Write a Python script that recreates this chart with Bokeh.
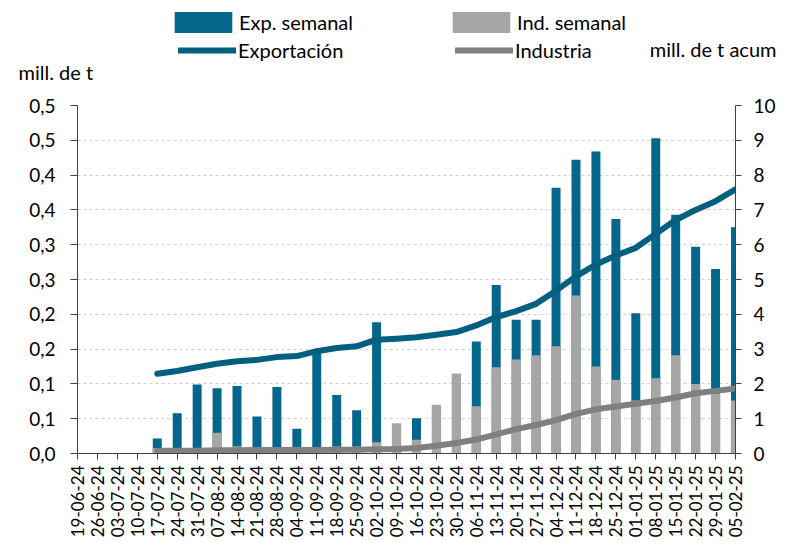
import math
from bokeh.plotting import figure
from bokeh.layouts import column
from bokeh.models import (Range1d, LinearAxis, FixedTicker, Legend, LegendItem,
                          Label, ColumnDataSource)
from bokeh.embed import file_html
from bokeh.resources import INLINE

nan = float("nan")

weeks = ["19-06-24", "26-06-24", "03-07-24", "10-07-24", "17-07-24", "24-07-24",
         "31-07-24", "07-08-24", "14-08-24", "21-08-24", "28-08-24", "04-09-24",
         "11-09-24", "18-09-24", "25-09-24", "02-10-24", "09-10-24", "16-10-24",
         "23-10-24", "30-10-24", "06-11-24", "13-11-24", "20-11-24", "27-11-24",
         "04-12-24", "11-12-24", "18-12-24", "25-12-24", "01-01-25", "08-01-25",
         "15-01-25", "22-01-25", "29-01-25", "05-02-25"]

# weekly exports (mill. de t, left axis)
exp_semanal = [0, 0, 0, 0, 0.0215, 0.058, 0.099, 0.0936, 0.097, 0.053,
               0.0955, 0.0354, 0.148, 0.084, 0.062, 0.1886, 0, 0.0505,
               0, 0, 0.161, 0.242, 0.192, 0.192, 0.382, 0.422,
               0.434, 0.337, 0.2015, 0.453, 0.343, 0.297, 0.265, 0.325]

# weekly industry (mill. de t, left axis)
ind_semanal = [0, 0, 0, 0, 0.008, 0.008, 0.003, 0.0297, 0.0105, 0.004,
               0.004, 0.003, 0.005, 0.01, 0.01, 0.016, 0.0435, 0.0197,
               0.070, 0.115, 0.068, 0.124, 0.135, 0.141, 0.154, 0.227,
               0.125, 0.106, 0.076, 0.108, 0.141, 0.0998, 0.086, 0.076]

# cumulative (mill. de t acum, right axis)
exportacion_acum = [nan, nan, nan, nan, 2.29, 2.37, 2.48, 2.58, 2.65, 2.69,
                    2.77, 2.80, 2.94, 3.03, 3.08, 3.27, 3.30, 3.34,
                    3.41, 3.49, 3.68, 3.92, 4.09, 4.30, 4.68, 5.09,
                    5.43, 5.69, 5.91, 6.31, 6.71, 7.00, 7.25, 7.59]

industria_acum = [nan, nan, nan, nan, 0.08, 0.08, 0.08, 0.09, 0.09, 0.10,
                  0.10, 0.10, 0.10, 0.11, 0.11, 0.12, 0.13, 0.16,
                  0.22, 0.30, 0.40, 0.55, 0.70, 0.82, 0.96, 1.14,
                  1.27, 1.35, 1.43, 1.51, 1.61, 1.73, 1.80, 1.87]

left_ticks = [0.0, 0.05, 0.1, 0.15, 0.2, 0.25, 0.3, 0.35, 0.4, 0.45, 0.5]
left_tick_labels = ["0,0", "0,1", "0,1", "0,2", "0,2", "0,3", "0,3", "0,4",
                    "0,4", "0,5", "0,5"]
right_ticks = [0, 1, 2, 3, 4, 5, 6, 7, 8, 9, 10]

TEAL = "#04668A"
TEAL_LINE = "#025F7F"
GRAY_BAR = "#A6A6A6"
GRAY_LINE = "#808080"
AXIS = "#404040"
FONT = "Lato"

W = 778
TOP_H = 95

idx = list(range(len(weeks)))
src = ColumnDataSource(dict(x=idx, exp=exp_semanal, ind=ind_semanal,
                            expa=exportacion_acum, inda=industria_acum))

# ---------------- main chart ----------------
p = figure(width=W, height=540 - TOP_H, x_range=Range1d(0, len(weeks) - 1),
           y_range=Range1d(0, 0.5), output_backend="svg", toolbar_location=None,
           min_border_left=77, min_border_right=40, min_border_top=10,
           min_border_bottom=87)
p.frame_align = False
p.outline_line_color = None
p.extra_y_ranges = {"acum": Range1d(0, 10)}

p.vbar(x="x", top="exp", width=0.45, source=src, fill_color=TEAL, line_color=None)
p.vbar(x="x", top="ind", width=0.47, source=src, fill_color=GRAY_BAR, line_color=None)
p.line(x="x", y="expa", source=src, line_color=TEAL_LINE, line_width=6,
       line_cap="round", line_join="round", y_range_name="acum")
p.line(x="x", y="inda", source=src, line_color=GRAY_LINE, line_width=6,
       line_cap="round", line_join="round", y_range_name="acum")

xa = p.xaxis[0]
xa.ticker = FixedTicker(ticks=idx)
xa.major_label_overrides = {i: w for i, w in zip(idx, weeks)}
xa.major_label_orientation = math.pi / 2
xa.major_label_text_font = FONT
xa.major_label_text_font_size = "17px"
xa.major_label_text_color = "#000000"
xa.major_tick_out = 6
xa.major_tick_in = 0
xa.minor_tick_out = 0
xa.minor_tick_in = 0
xa.major_label_standoff = 6
xa.axis_line_color = AXIS
xa.major_tick_line_color = AXIS

ya = p.yaxis[0]
ya.ticker = FixedTicker(ticks=left_ticks)
ya.major_label_overrides = {t: l for t, l in zip(left_ticks, left_tick_labels)}
ya.major_label_text_font = FONT
ya.major_label_text_font_size = "19px"
ya.major_label_text_color = "#000000"
ya.major_tick_out = 7
ya.major_tick_in = 0
ya.minor_tick_out = 0
ya.minor_tick_in = 0
ya.major_label_standoff = 15
ya.axis_line_color = AXIS
ya.major_tick_line_color = AXIS

ra = LinearAxis(y_range_name="acum", ticker=FixedTicker(ticks=right_ticks))
ra.major_label_text_font = FONT
ra.major_label_text_font_size = "19px"
ra.major_label_text_color = "#000000"
ra.major_tick_out = 6
ra.major_tick_in = 0
ra.minor_tick_out = 0
ra.minor_tick_in = 0
ra.major_label_standoff = 12
ra.axis_line_color = AXIS
ra.major_tick_line_color = AXIS
p.add_layout(ra, "right")

p.xgrid.visible = False
p.ygrid.ticker = FixedTicker(ticks=left_ticks)
p.ygrid.grid_line_color = "#D0D0D0"
p.ygrid.grid_line_dash = "3 3"
p.ygrid.grid_line_width = 1

# ---------------- header (legend + unit labels) ----------------
top = figure(width=W, height=TOP_H, x_range=Range1d(0, W), y_range=Range1d(0, TOP_H),
             output_backend="svg", toolbar_location=None,
             x_axis_location=None, y_axis_location=None,
             min_border_left=0, min_border_right=0, min_border_top=0,
             min_border_bottom=0)
top.frame_align = False
top.outline_line_color = None
top.grid.visible = False

# hidden copies of the series, only used to draw the legend keys
k_exp = top.vbar(x="x", top="exp", width=0.45, source=src, fill_color=TEAL,
                 line_color=None, visible=False)
k_ind = top.vbar(x="x", top="ind", width=0.47, source=src, fill_color=GRAY_BAR,
                 line_color=None, visible=False)
k_expa = top.line(x="x", y="expa", source=src, line_color=TEAL_LINE, line_width=6,
                  line_cap="round", visible=False)
k_inda = top.line(x="x", y="inda", source=src, line_color=GRAY_LINE, line_width=6,
                  line_cap="round", visible=False)


def make_legend(item, loc, gw, standoff):
    lg = Legend(items=[item], location=loc, orientation="vertical",
                glyph_width=gw, glyph_height=26, label_height=26,
                label_standoff=standoff, spacing=0, padding=0, margin=0,
                border_line_color=None, background_fill_alpha=0,
                inactive_fill_alpha=0, click_policy="none",
                label_text_font=FONT, label_text_font_size="20px",
                label_text_color="#000000")
    top.add_layout(lg, "center")


make_legend(LegendItem(label="Exp. semanal", renderers=[k_exp]), (167, 60), 72, 0)
make_legend(LegendItem(label="Exportación", renderers=[k_expa]), (178, 32), 58, 2)
make_legend(LegendItem(label="Ind. semanal", renderers=[k_ind]), (445, 60), 72, 0)
make_legend(LegendItem(label="Industria", renderers=[k_inda]), (455, 32), 58, 2)

top.add_layout(Label(x=18, y=24, x_units="screen", y_units="screen",
                     text="mill. de t", text_font=FONT, text_font_size="20px",
                     text_baseline="middle", text_align="left", text_color="#000000"))
top.add_layout(Label(x=776, y=47, x_units="screen", y_units="screen",
                     text="mill. de t acum", text_font=FONT, text_font_size="20px",
                     text_baseline="middle", text_align="right", text_color="#000000"))

layout = column(top, p, spacing=0)
open("out.html", "w").write(file_html(layout, INLINE))
